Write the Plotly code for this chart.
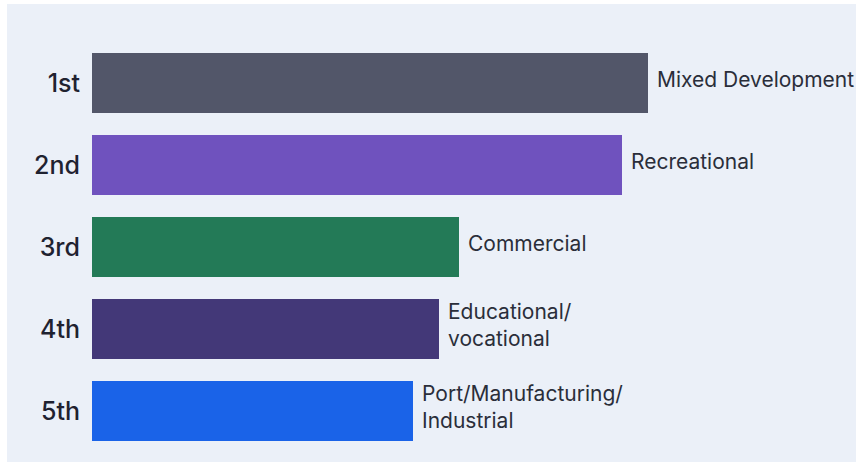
import plotly.graph_objects as go

# Ranked land-use preferences
ranks = ["1st", "2nd", "3rd", "4th", "5th"]
categories = [
    "Mixed Development",
    "Recreational",
    "Commercial",
    "Educational/<br>vocational",
    "Port/Manufacturing/<br>Industrial",
]
scores = [556, 530, 367, 347, 321]
colors = ["#525669", "#6F52BE", "#237A57", "#433878", "#1A63E8"]

BG = "#EBF0F8"
TEXT = "#2A2E3A"

fig = go.Figure(
    go.Bar(
        x=scores,
        y=ranks,
        orientation="h",
        marker=dict(color=colors, line=dict(width=0)),
        hoverinfo="skip",
    )
)

# Category label to the right of each bar
for r, c, s in zip(ranks, categories, scores):
    fig.add_annotation(
        x=s, y=r, text=c, showarrow=False,
        xanchor="left", yanchor="middle", xshift=7, yshift=4,
        align="left",
        font=dict(family="Inter, Lato, sans-serif", size=21, color=TEXT),
    )

# Light panel behind the chart
fig.add_shape(
    type="rect", xref="paper", yref="paper",
    x0=-0.1113, x1=1.01, y0=-0.0244, y1=1.0927,
    fillcolor=BG, line=dict(width=0), layer="below",
)

fig.update_layout(
    width=856, height=464,
    margin=dict(l=92, r=0, t=42, b=12),
    paper_bgcolor="white",
    plot_bgcolor=BG,
    bargap=0.27,
    showlegend=False,
    xaxis=dict(range=[0, 764], visible=False, fixedrange=True),
    yaxis=dict(
        autorange="reversed",
        showgrid=False, zeroline=False, showline=False,
        ticks="", ticklabelstandoff=11,
        tickfont=dict(family="Inter, Lato, sans-serif", size=25, color="#1F2230", weight=500),
    ),
)

fig.write_html("out.html")
